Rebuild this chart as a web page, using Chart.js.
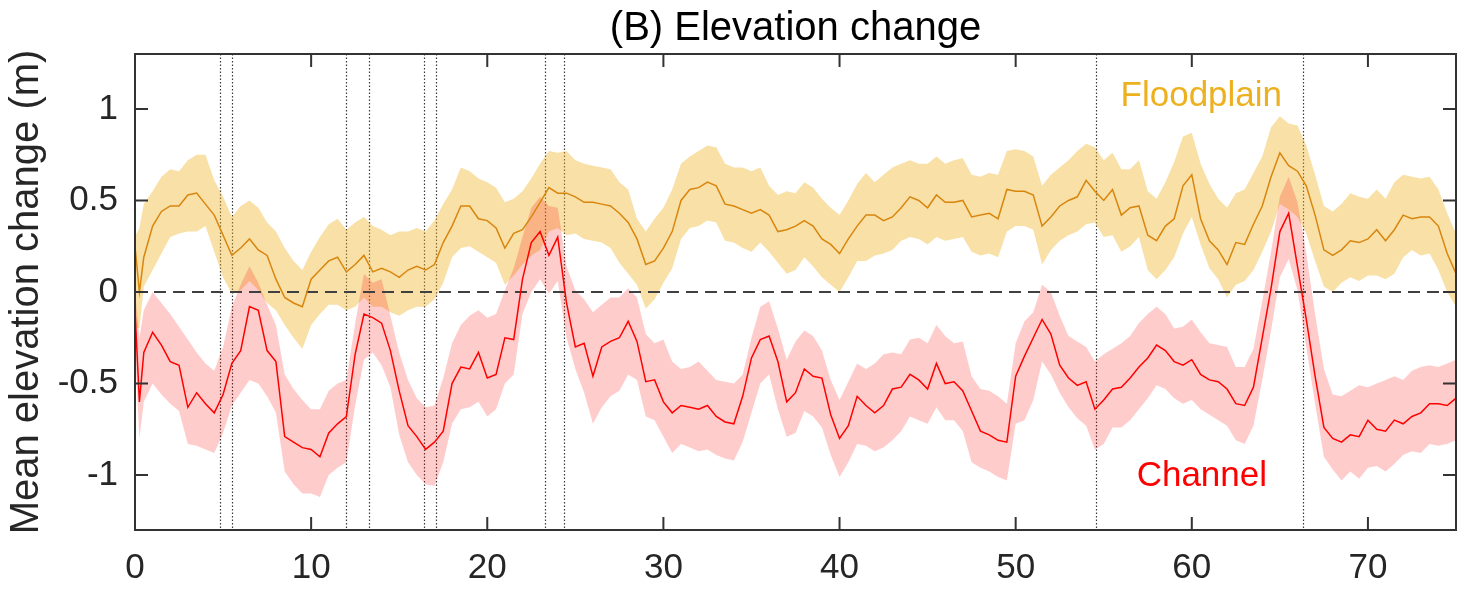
<!DOCTYPE html>
<html>
<head>
<meta charset="utf-8">
<title>Elevation change</title>
<script src="https://cdn.jsdelivr.net/npm/chart.js@4.4.1/dist/chart.umd.min.js"></script>
<style>
  html, body { margin: 0; padding: 0; background: #fff; }
  #wrap { width: 1472px; height: 590px; }
</style>
</head>
<body>
<div id="wrap"><canvas id="chart2"></canvas></div>
<script>
// distance downstream (km)
var distance = [0, 0.25, 0.5, 1, 1.5, 2, 2.5, 3, 3.5, 4, 4.5,
  5, 5.5, 6, 6.5, 7, 7.5, 8, 8.5, 9, 9.5,
  10, 10.5, 11, 11.5, 12, 12.5, 13, 13.5, 14, 14.5,
  15, 15.5, 16, 16.5, 17, 17.5, 18, 18.5, 19, 19.5,
  20, 20.5, 21, 21.5, 22, 22.5, 23, 23.5, 24, 24.5,
  25, 25.5, 26, 26.5, 27, 27.5, 28, 28.5, 29, 29.5,
  30, 30.5, 31, 31.5, 32, 32.5, 33, 33.5, 34, 34.5,
  35, 35.5, 36, 36.5, 37, 37.5, 38, 38.5, 39, 39.5,
  40, 40.5, 41, 41.5, 42, 42.5, 43, 43.5, 44, 44.5,
  45, 45.5, 46, 46.5, 47, 47.5, 48, 48.5, 49, 49.5,
  50, 50.5, 51, 51.5, 52, 52.5, 53, 53.5, 54, 54.5,
  55, 55.5, 56, 56.5, 57, 57.5, 58, 58.5, 59, 59.5,
  60, 60.5, 61, 61.5, 62, 62.5, 63, 63.5, 64, 64.5,
  65, 65.5, 66, 66.5, 67, 67.5, 68, 68.5, 69, 69.5,
  70, 70.5, 71, 71.5, 72, 72.5, 73, 73.5, 74, 74.5,
  75]

var floodplain_mean = [.25, .00, .19, .36, .44, .47, .47, .53, .54, .48, .42,
  .31, .20, .24, .29, .23, .20, .07, -.03, -.06, -.08,
  .07, .12, .17, .19, .11, .15, .20, .11, .13, .11,
  .08, .12, .14, .12, .15, .27, .36, .47, .47, .40,
  .39, .35, .24, .32, .34, .41, .49, .57, .54, .54,
  .52, .49, .49, .48, .47, .43, .38, .29, .15, .17,
  .24, .33, .50, .56, .57, .60, .58, .48, .47, .45,
  .43, .45, .42, .33, .34, .36, .39, .36, .29, .26,
  .21, .29, .36, .42, .42, .39, .41, .46, .52, .50,
  .46, .53, .49, .49, .50, .41, .42, .43, .40, .56,
  .55, .55, .53, .36, .41, .47, .50, .52, .61, .55,
  .50, .56, .42, .46, .47, .31, .28, .36, .40, .58,
  .64, .40, .28, .23, .15, .27, .26, .37, .47, .63,
  .76, .69, .66, .58, .42, .23, .20, .23, .28, .27,
  .29, .34, .28, .34, .42, .40, .41, .41, .36, .21,
  .10]

var floodplain_upper = [.30, .35, .48, .55, .63, .67, .66, .72, .75, .75, .61,
  .52, .41, .47, .50, .46, .38, .33, .24, .17, .12,
  .22, .30, .37, .40, .34, .38, .41, .36, .34, .31,
  .33, .33, .35, .33, .39, .48, .56, .68, .66, .62,
  .60, .57, .49, .51, .55, .62, .70, .77, .76, .77,
  .72, .70, .69, .68, .67, .60, .56, .40, .33, .40,
  .46, .56, .70, .74, .77, .80, .79, .70, .68, .68,
  .66, .68, .58, .53, .55, .54, .60, .57, .51, .46,
  .42, .50, .59, .65, .60, .64, .68, .70, .72, .70,
  .70, .74, .70, .72, .73, .64, .63, .65, .64, .77,
  .78, .77, .74, .58, .64, .68, .72, .77, .81, .79,
  .72, .76, .67, .67, .72, .55, .51, .60, .71, .85,
  .87, .70, .59, .51, .46, .54, .56, .65, .74, .90,
  .96, .92, .91, .80, .64, .47, .44, .48, .54, .52,
  .51, .56, .51, .60, .64, .63, .62, .63, .56, .43,
  .32]

var floodplain_lower = [-.19, -.20, .03, .12, .21, .30, .32, .33, .33, .36, .22,
  .08, -.01, .01, .06, .01, -.06, -.10, -.18, -.25, -.31,
  -.18, -.12, -.07, -.07, -.10, -.08, -.03, -.08, -.08, -.11,
  -.13, -.10, -.08, -.08, -.04, .05, .19, .24, .25, .22,
  .19, .16, .04, .09, .15, .20, .23, .33, .35, .31,
  .32, .29, .28, .27, .24, .16, .10, .04, -.09, -.04,
  .05, .13, .29, .35, .36, .39, .38, .28, .27, .24,
  .22, .27, .22, .16, .10, .12, .19, .14, .08, .04,
  .00, .08, .17, .17, .20, .21, .23, .28, .30, .29,
  .26, .30, .28, .29, .30, .22, .20, .21, .19, .33,
  .36, .36, .34, .15, .23, .28, .31, .33, .37, .38,
  .30, .31, .22, .25, .30, .12, .07, .12, .19, .32,
  .41, .26, .13, .07, -.03, .04, .06, .12, .22, .33,
  .48, .45, .41, .32, .17, .03, .00, .05, .08, .06,
  .09, .09, .07, .10, .19, .23, .20, .21, .12, .00,
  -.08]

var channel_mean = [-.10, -.60, -.33, -.22, -.29, -.38, -.40, -.63, -.55, -.61, -.66,
  -.56, -.39, -.32, -.08, -.10, -.32, -.38, -.79, -.82, -.85,
  -.86, -.90, -.77, -.72, -.68, -.34, -.12, -.14, -.17, -.32,
  -.54, -.73, -.79, -.86, -.82, -.76, -.50, -.41, -.42, -.33,
  -.47, -.45, -.25, -.26, .07, .27, .33, .20, .30, -.06,
  -.30, -.28, -.46, -.30, -.27, -.25, -.16, -.27, -.49, -.48,
  -.60, -.66, -.62, -.63, -.64, -.62, -.68, -.71, -.72, -.57,
  -.36, -.26, -.24, -.38, -.60, -.55, -.42, -.46, -.47, -.67,
  -.80, -.73, -.57, -.62, -.66, -.62, -.53, -.52, -.45, -.48,
  -.53, -.39, -.50, -.49, -.54, -.65, -.76, -.78, -.81, -.82,
  -.46, -.35, -.25, -.15, -.23, -.40, -.47, -.51, -.49, -.64,
  -.59, -.53, -.52, -.47, -.41, -.36, -.29, -.32, -.38, -.40,
  -.37, -.45, -.48, -.49, -.53, -.61, -.62, -.52, -.25, .02,
  .33, .43, .14, -.15, -.46, -.74, -.80, -.82, -.78, -.79,
  -.70, -.75, -.76, -.70, -.72, -.68, -.66, -.61, -.61, -.62,
  -.58]

var channel_upper = [.00, -.25, -.10, .00, -.06, -.12, -.19, -.26, -.33, -.39, -.43,
  -.30, -.08, .04, .14, .05, -.07, -.18, -.45, -.53, -.59,
  -.64, -.64, -.54, -.50, -.48, -.17, .10, .05, .07, -.13,
  -.33, -.48, -.58, -.63, -.62, -.47, -.28, -.18, -.13, -.10,
  -.14, -.12, .01, .13, .30, .46, .52, .47, .46, .14,
  .01, -.04, -.11, -.07, -.03, -.03, .02, -.03, -.23, -.28,
  -.26, -.38, -.42, -.41, -.38, -.43, -.48, -.49, -.50, -.45,
  -.25, -.08, -.05, -.20, -.37, -.27, -.21, -.24, -.32, -.48,
  -.59, -.49, -.39, -.42, -.39, -.34, -.33, -.34, -.26, -.25,
  -.28, -.18, -.24, -.28, -.27, -.46, -.53, -.54, -.57, -.61,
  -.28, -.16, -.11, .04, .00, -.13, -.24, -.27, -.30, -.38,
  -.34, -.31, -.28, -.24, -.17, -.12, -.08, -.12, -.20, -.19,
  -.15, -.22, -.28, -.29, -.30, -.41, -.41, -.31, -.05, .22,
  .52, .63, .49, .21, -.12, -.42, -.56, -.57, -.54, -.51,
  -.52, -.50, -.48, -.46, -.48, -.43, -.41, -.40, -.41, -.39,
  -.37]

var channel_lower = [-.32, -.80, -.60, -.50, -.56, -.61, -.65, -.83, -.84, -.86, -.88,
  -.77, -.62, -.55, -.48, -.50, -.57, -.66, -.98, -1.05, -1.10,
  -1.10, -1.12, -1.00, -.96, -.93, -.62, -.37, -.33, -.40, -.52,
  -.78, -.93, -1.00, -1.05, -1.06, -.93, -.72, -.64, -.63, -.60,
  -.68, -.64, -.50, -.45, -.12, .00, .07, -.01, .06, -.25,
  -.42, -.55, -.72, -.63, -.57, -.54, -.45, -.48, -.68, -.70,
  -.79, -.88, -.83, -.85, -.87, -.86, -.89, -.91, -.92, -.82,
  -.66, -.50, -.45, -.64, -.79, -.77, -.65, -.68, -.74, -.89,
  -1.01, -.93, -.83, -.84, -.87, -.85, -.81, -.76, -.68, -.70,
  -.72, -.63, -.70, -.70, -.76, -.93, -.96, -.98, -1.01, -1.03,
  -.72, -.70, -.59, -.38, -.45, -.55, -.63, -.69, -.73, -.86,
  -.83, -.74, -.74, -.70, -.64, -.58, -.51, -.53, -.58, -.61,
  -.59, -.64, -.67, -.70, -.73, -.81, -.83, -.73, -.48, -.21,
  .08, .18, .01, -.30, -.61, -.90, -.97, -1.03, -.98, -1.02,
  -.96, -.95, -.98, -.94, -.89, -.87, -.88, -.83, -.84, -.83,
  -.81]

// reach boundaries (dotted verticals)
var boundaries = [4.83, 5.53, 12.0, 13.3, 16.4, 17.08, 23.3, 24.37, 54.55, 66.3]

var x_ticks = [0, 10, 20, 30, 40, 50, 60, 70]
var y_ticks = [-1, -0.5, 0, 0.5, 1]

var FONT = "'Liberation Sans', Arial, Helvetica, sans-serif"

function pts(ys) {
  return distance.map(function (d, i) { return { x: d, y: ys[i] } })
}

// MATLAB-ish box with inward ticks, dotted boundaries and text labels
var axesBox = {
  id: 'axesBox',
  beforeDatasetsDraw: function (chart) {
    var ctx = chart.ctx, a = chart.chartArea
    var xs = chart.scales.x
    ctx.save()
    ctx.strokeStyle = '#3a3a3a'
    ctx.lineWidth = 1.2
    ctx.setLineDash([1.5, 2])
    boundaries.forEach(function (b) {
      var px = Math.round(xs.getPixelForValue(b)) + 0.5
      ctx.beginPath()
      ctx.moveTo(px, a.top)
      ctx.lineTo(px, a.bottom)
      ctx.stroke()
    })
    ctx.restore()
  },
  afterDatasetsDraw: function (chart) {
    var ctx = chart.ctx, a = chart.chartArea
    var xs = chart.scales.x, ys = chart.scales.y
    ctx.save()
    ctx.font = '35px ' + FONT
    ctx.textAlign = 'center'
    ctx.textBaseline = 'middle'
    ctx.fillStyle = '#EDB120'
    ctx.fillText('Floodplain', xs.getPixelForValue(60.54), ys.getPixelForValue(1.068))
    ctx.fillStyle = '#FF0000'
    ctx.fillText('Channel', xs.getPixelForValue(60.57), ys.getPixelForValue(-1.008))

    ctx.strokeStyle = '#333333'
    ctx.lineWidth = 2
    ctx.strokeRect(a.left, a.top, a.right - a.left, a.bottom - a.top)
    ctx.beginPath()
    x_ticks.forEach(function (t) {
      var px = xs.getPixelForValue(t)
      ctx.moveTo(px, a.bottom); ctx.lineTo(px, a.bottom - 13)
      ctx.moveTo(px, a.top); ctx.lineTo(px, a.top + 13)
    })
    y_ticks.forEach(function (t) {
      var py = ys.getPixelForValue(t)
      ctx.moveTo(a.left, py); ctx.lineTo(a.left + 13, py)
      ctx.moveTo(a.right, py); ctx.lineTo(a.right - 13, py)
    })
    ctx.stroke()
    ctx.restore()
  }
}

var chart2 = new Chart(
  document.getElementById('chart2'),
  {
    type: 'line',
    data: {
      datasets: [
        {
          label: 'Floodplain',
          data: pts(floodplain_mean),
          borderColor: '#D9860F',
          borderWidth: 1.5,
          pointRadius: 0,
          fill: false,
          order: 0
        },
        {
          label: 'Channel',
          data: pts(channel_mean),
          borderColor: '#FF0000',
          borderWidth: 1.5,
          pointRadius: 0,
          fill: false,
          order: 0
        },
        {
          label: 'zero',
          data: [{ x: 0, y: 0 }, { x: 75, y: 0 }],
          borderColor: '#404040',
          borderWidth: 1.8,
          borderDash: [12, 7],
          pointRadius: 0,
          fill: false,
          order: 1
        },
        {
          label: 'Channel upper',
          data: pts(channel_upper),
          borderWidth: 0,
          pointRadius: 0,
          backgroundColor: 'rgba(255, 0, 0, 0.2)',
          fill: '+1',
          order: 2
        },
        {
          label: 'Channel lower',
          data: pts(channel_lower),
          borderWidth: 0,
          pointRadius: 0,
          fill: false,
          order: 2
        },
        {
          label: 'Floodplain upper',
          data: pts(floodplain_upper),
          borderWidth: 0,
          pointRadius: 0,
          backgroundColor: 'rgba(237, 177, 32, 0.4)',
          fill: '+1',
          order: 3
        },
        {
          label: 'Floodplain lower',
          data: pts(floodplain_lower),
          borderWidth: 0,
          pointRadius: 0,
          fill: false,
          order: 3
        }
      ]
    },
    options: {
      responsive: true,
      maintainAspectRatio: false,
      animation: false,
      layout: { padding: { left: 0, right: 16, top: 0, bottom: 0 } },
      elements: { line: { tension: 0 } },
      plugins: {
        legend: { display: false },
        tooltip: { enabled: false },
        title: {
          display: true,
          fullSize: false,
          text: '(B) Elevation change',
          color: '#000',
          font: { family: FONT, size: 40, weight: 'normal' },
          padding: { top: 5, bottom: 1 }
        }
      },
      scales: {
        x: {
          type: 'linear',
          min: 0,
          max: 75,
          grid: { display: false, drawTicks: false },
          border: { display: false },
          afterBuildTicks: function (s) { s.ticks = x_ticks.map(function (v) { return { value: v } }) },
          afterFit: function (s) { s.height = 60 },
          ticks: {
            color: '#262626',
            padding: 17,
            maxRotation: 0,
            font: { family: FONT, size: 35 }
          }
        },
        y: {
          min: -1.3,
          max: 1.3,
          grid: { display: false, drawTicks: false },
          border: { display: false },
          afterBuildTicks: function (s) { s.ticks = y_ticks.map(function (v) { return { value: v } }) },
          afterFit: function (s) { s.width = 135 },
          title: {
            display: true,
            text: 'Mean elevation change (m)',
            color: '#262626',
            font: { family: FONT, size: 40 },
            padding: { top: 3, bottom: 0 }
          },
          ticks: {
            color: '#262626',
            padding: 17,
            font: { family: FONT, size: 35 },
            callback: function (v) { return String(v) }
          }
        }
      }
    },
    plugins: [axesBox]
  }
);
</script>
</body>
</html>
